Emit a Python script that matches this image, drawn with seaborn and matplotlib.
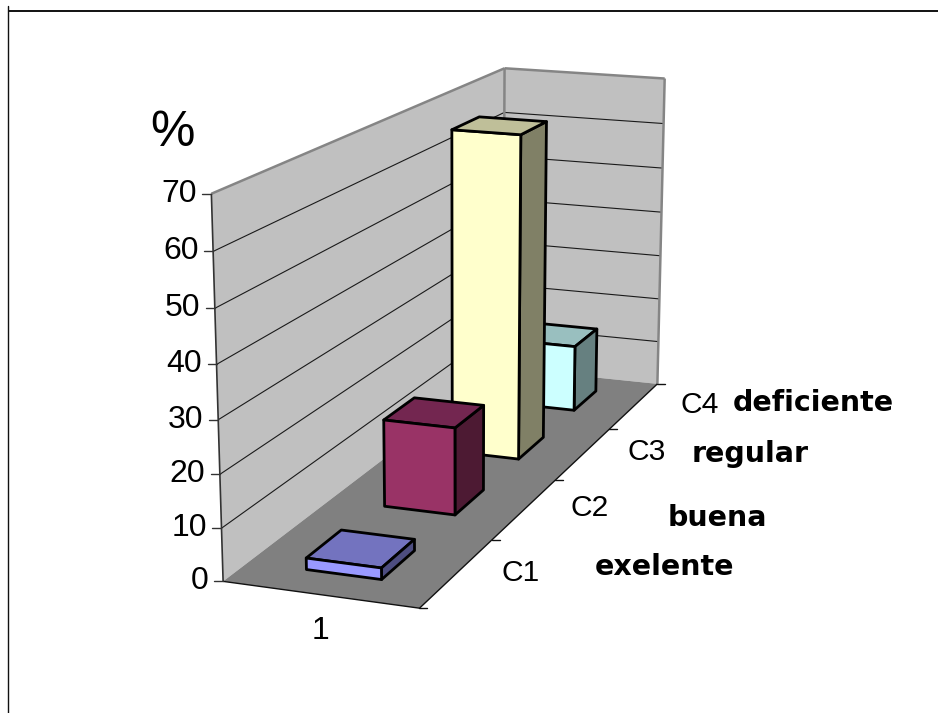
import numpy as np
import matplotlib
matplotlib.use("Agg")
import matplotlib.pyplot as plt
import seaborn as sns
from matplotlib.lines import Line2D
from matplotlib.transforms import IdentityTransform
from mpl_toolkits.mplot3d.art3d import Poly3DCollection, Line3DCollection

# ---- data ----
categories = ["C1", "C2", "C3", "C4"]
category_notes = ["exelente", "buena", "regular", "deficiente"]
values = [2.2, 17.5, 67.5, 14.5]
value_ticks = [0, 10, 20, 30, 40, 50, 60, 70]
series_label = "1"
unit_label = "%"
front_colors = ["#9999FF", "#993366", "#FFFFCC", "#CCFFFF"]
top_colors = ["#7373BF", "#732650", "#BFBF99", "#99BFBF"]
side_colors = ["#4D4D80", "#4D1A33", "#808066", "#668080"]

W, H = 938, 713
BAR_X = (0.305, 0.695)
BAR_Y = (0.285, 0.715)

sns.set_theme(style="white")
plt.rcParams["font.family"] = ["Liberation Sans", "DejaVu Sans"]

# camera calibration: box corners (series, category, value) seen at image pixels
box_corners = np.array([[0, 0, 0], [1, 0, 0], [1, 4, 0], [0, 4, 0],
                        [0, 0, 70], [0, 4, 70], [1, 4, 70]], float)
box_pixels = np.array([[222.3, 581], [420, 608.3], [656.7, 384], [504, 368],
                       [211.7, 194], [504, 68.3], [665, 78.3]], float)


def solve_camera(world, image):
    S = np.diag([1, 1 / 4, 1 / 70, 1.0])
    T = np.diag([1 / 500, 1 / 500, 1.0])
    rows = []
    for w3, (a, b) in zip(world, image / 500):
        h = (S @ np.r_[w3, 1])
        rows.append(np.r_[h, 0, 0, 0, 0, -a * h])
        rows.append(np.r_[0, 0, 0, 0, h, -b * h])
    p = np.linalg.svd(np.array(rows))[2][-1].reshape(3, 4)
    P = np.linalg.inv(T) @ p @ S
    return P / P[2, 3]


CAM = solve_camera(box_corners, box_pixels)


def to_px(x, y, z):
    u = CAM @ np.array([x, y, z, 1.0])
    return u[0] / u[2], u[1] / u[2]


fig = plt.figure(figsize=(W / 100, H / 100), dpi=100, facecolor="white")
ax = fig.add_axes([0, 0, 1, 1], projection="3d", computed_zorder=False)
ax.set_axis_off()
ax.set_xlim(0, 1)
ax.set_ylim(0, 4)
ax.set_zlim(0, 70)
ax.apply_aspect()

px_to_disp = np.array([[1, 0, 0], [0, -1, H], [0, 0, 1.0]])
P3 = ax.transData.inverted().get_matrix() @ px_to_disp @ CAM
M = np.vstack([P3[0], P3[1], P3[2] - np.array([0, 0, 0, 0.5]), P3[2]])
ax.get_proj = lambda: M


def poly(verts, fc, ec="none", lw=0, z=1):
    c = Poly3DCollection(verts, facecolors=fc, edgecolors=ec, linewidths=lw,
                         zorder=z, closed=True)
    ax.add_collection3d(c, autolim=False)


def lines(path, color, lw, z):
    pts = np.array(path, float)
    segs = np.stack([pts[:-1], pts[1:]], axis=1)
    c = Line3DCollection(segs, colors=color, linewidths=lw, zorder=z)
    ax.add_collection3d(c, autolim=False)


zmax = value_ticks[-1]
nc = len(categories)
# walls and floor
poly([[(0, 0, 0), (0, nc, 0), (0, nc, zmax), (0, 0, zmax)]], "#C0C0C0", z=1)
poly([[(0, nc, 0), (1, nc, 0), (1, nc, zmax), (0, nc, zmax)]], "#C0C0C0", z=1)
for t in value_ticks[1:-1]:
    lines([(0, 0, t), (0, nc, t), (1, nc, t)], "#1a1a1a", 0.8, 2)
poly([[(0, 0, 0), (1, 0, 0), (1, nc, 0), (0, nc, 0)]], "#808080", z=3)
lines([(0, 0, zmax), (0, nc, zmax), (1, nc, zmax), (1, nc, 0)], "#858585", 1.8, 4)
lines([(0, nc, 0), (0, nc, zmax)], "#858585", 1.8, 2)
lines([(0, 0, 0), (0, 0, zmax)], "#333333", 1.2, 4)
lines([(0, 0, 0), (1, 0, 0), (1, nc, 0)], "#111111", 1.0, 4)

# bars, back to front
for i in reversed(range(nc)):
    x0, x1 = BAR_X
    y0, y1 = i + BAR_Y[0], i + BAR_Y[1]
    v = values[i]
    z = 10 + (nc - i)
    front = [(x0, y0, 0), (x1, y0, 0), (x1, y0, v), (x0, y0, v)]
    side = [(x1, y0, 0), (x1, y1, 0), (x1, y1, v), (x1, y0, v)]
    top = [(x0, y0, v), (x1, y0, v), (x1, y1, v), (x0, y1, v)]
    poly([front, side, top], [front_colors[i], side_colors[i], top_colors[i]],
         ec="black", lw=2.0, z=z)


def px_text(x, y, s, **kw):
    fig.text(x, H - y, s, transform=IdentityTransform(), **kw)


def px_line(x0, y0, x1, y1, **kw):
    fig.add_artist(Line2D([x0, x1], [H - y0, H - y1], transform=IdentityTransform(), **kw))


# value axis ticks and labels
for t in value_ticks:
    px, py = to_px(0, 0, t)
    px_line(px - 9, py, px, py, color="#333333", lw=1.0)
    px_text(px - 14.5, py, str(t), ha="right", va="center", fontsize=23, color="black")

# category axis ticks
for k in range(nc + 1):
    px, py = to_px(1, k, 0)
    px_line(px, py, px + 8, py, color="#111111", lw=1.0)

cat_pos = [(521, 573), (590, 508), (647, 452), (700, 405)]
note_pos = [(665, 567), (717, 518), (750, 454), (813, 403)]
for name, (a, b) in zip(categories, cat_pos):
    px_text(a, b, name, ha="center", va="center", fontsize=21.6, color="black")
for name, (a, b) in zip(category_notes, note_pos):
    px_text(a, b, name, ha="center", va="center", fontsize=20.5, fontweight="bold",
            family="DejaVu Sans", color="black")
px_text(320, 631, series_label, ha="center", va="center", fontsize=23, color="black")
px_text(172, 133, unit_label, ha="center", va="center", fontsize=36, color="black")

# slide frame
px_line(8.5, 11, W, 11, color="#111111", lw=1.4)
px_line(8.3, 6, 8.3, H, color="#111111", lw=1.0)

fig.savefig("out.png", dpi=100, facecolor="white")
